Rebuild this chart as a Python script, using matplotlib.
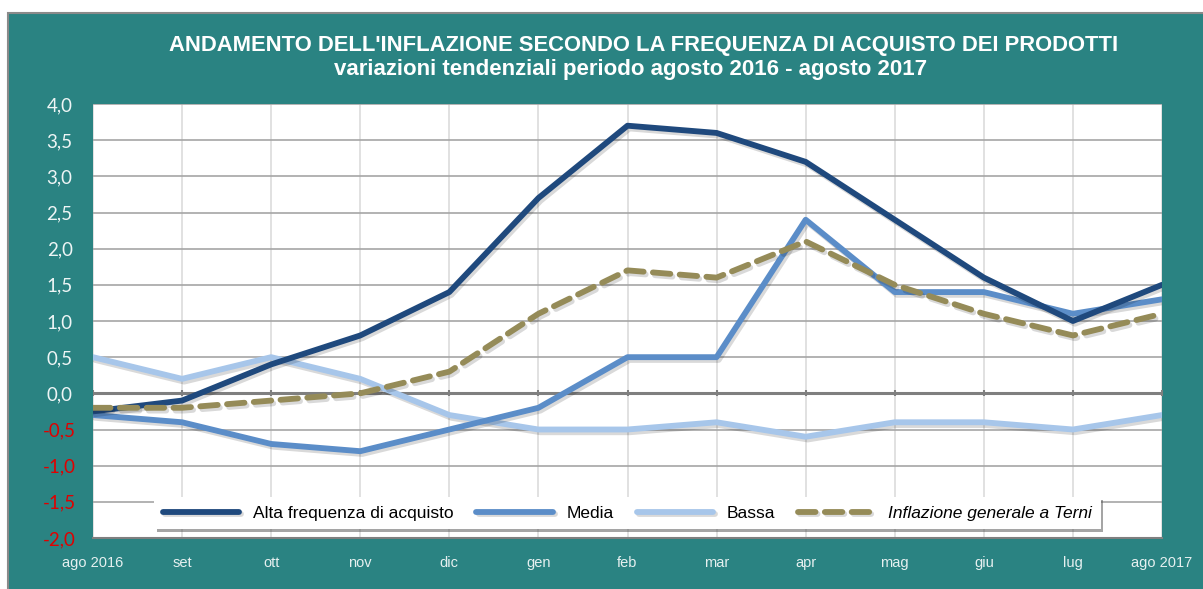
import matplotlib
matplotlib.use("Agg")
import matplotlib.pyplot as plt
from matplotlib.patches import Rectangle
import matplotlib.patheffects as pe

months = ["ago 2016", "set", "ott", "nov", "dic", "gen", "feb", "mar", "apr",
          "mag", "giu", "lug", "ago 2017"]
alta = [-0.25, -0.1, 0.4, 0.8, 1.4, 2.7, 3.7, 3.6, 3.2, 2.4, 1.6, 1.0, 1.5]
media = [-0.3, -0.4, -0.7, -0.8, -0.5, -0.2, 0.5, 0.5, 2.4, 1.4, 1.4, 1.1, 1.3]
bassa = [0.5, 0.2, 0.5, 0.2, -0.3, -0.5, -0.5, -0.4, -0.6, -0.4, -0.4, -0.5, -0.3]
inflazione = [-0.2, -0.2, -0.1, 0.0, 0.3, 1.1, 1.7, 1.6, 2.1, 1.5, 1.1, 0.8, 1.1]
yticks = [-2.0, -1.5, -1.0, -0.5, 0.0, 0.5, 1.0, 1.5, 2.0, 2.5, 3.0, 3.5, 4.0]

series_labels = ["Alta frequenza di acquisto", "Media", "Bassa",
                 "Inflazione generale a Terni"]

TEAL = "#2a8382"
W, H = 1203, 589
fig = plt.figure(figsize=(W / 100, H / 100), dpi=100)
fig.patch.set_facecolor("white")
fig.patches.append(Rectangle((8 / W, -0.01), 1.0, 1.01 - 13 / H, transform=fig.transFigure,
                             facecolor=TEAL, edgecolor="#8a8a8a", linewidth=1.5,
                             zorder=-10))

ax = fig.add_axes([93 / W, 1 - 538 / H, (1162 - 93) / W, (538 - 104) / H])
ax.set_facecolor("white")
x = list(range(len(months)))

shadow = [pe.SimpleLineShadow(offset=(1.5, -2), alpha=0.15, shadow_color="black"),
          pe.Normal()]

ax.plot(x, bassa, color="#a7c6ea", lw=4.2, solid_capstyle="round",
        path_effects=shadow, zorder=3, label=series_labels[2])
ax.plot(x, media, color="#5b8dc8", lw=4.2, solid_capstyle="round",
        path_effects=shadow, zorder=4, label=series_labels[1])
ax.plot(x, alta, color="#1f497d", lw=4.2, solid_capstyle="round",
        path_effects=shadow, zorder=5, label=series_labels[0])
ax.plot(x, inflazione, color="#958b58", lw=4.2, dashes=(3, 1.6), dash_capstyle="round",
        path_effects=shadow, zorder=6, label=series_labels[3])

ax.set_xlim(0, len(months) - 1)
ax.set_ylim(-2.0, 4.0)
ax.set_yticks(yticks)
ax.set_xticks(x)
ax.grid(axis="y", color="#a6a6a6", lw=1.2, zorder=0)
ax.grid(axis="x", color="#dcdcdc", lw=1.2, zorder=0)
ax.set_axisbelow(True)
ax.axhline(0, color="#7f7f7f", lw=2.2, zorder=2)
ax.plot(x, [0] * len(x), ls="none", marker="|", ms=5, mew=1.5, color="#7f7f7f", zorder=2)

for s in ax.spines.values():
    s.set_visible(False)
ax.spines["bottom"].set_visible(True)
ax.spines["bottom"].set_color("#7f7f7f")
ax.spines["bottom"].set_linewidth(1.5)

ax.tick_params(axis="both", length=0)
ax.tick_params(axis="x", pad=13)
ax.tick_params(axis="y", pad=24)
ax.set_xticklabels(months, fontsize=10.5, color="#e6f0f0", family="Liberation Sans")
ylabels = [f"{v:.1f}".replace(".", ",") for v in yticks]
ax.set_yticklabels(ylabels, fontsize=13.5, family="Lato")
for lab, v in zip(ax.get_yticklabels(), yticks):
    lab.set_color("#e00000" if v < 0 else "#eef5f5")
    lab.set_horizontalalignment("center")

handles, labels = ax.get_legend_handles_labels()
order = [2, 1, 0, 3]
leg = ax.legend([handles[i] for i in order], [labels[i] for i in order],
                loc="lower center", bbox_to_anchor=(0.5, 0.0), ncol=4,
                frameon=True, fancybox=False, shadow=True, framealpha=1,
                prop={"family": "Liberation Sans", "size": 12.5},
                handlelength=4.4, columnspacing=1.3, handletextpad=0.8,
                borderpad=0.5)
leg.get_frame().set_edgecolor("white")
leg.get_frame().set_linewidth(0)
leg.get_texts()[3].set_style("italic")
leg.set_zorder(10)

fig.text(0.535, 1 - 46 / H, "ANDAMENTO DELL'INFLAZIONE SECONDO LA FREQUENZA DI ACQUISTO DEI PRODOTTI",
         ha="center", va="center", color="white", fontsize=15.8, fontweight="bold",
         family="Liberation Sans")
fig.text(0.524, 1 - 70 / H, "variazioni tendenziali periodo agosto 2016 - agosto 2017",
         ha="center", va="center", color="white", fontsize=16, fontweight="bold",
         family="Liberation Sans")

fig.savefig("out.png", dpi=100, facecolor=fig.get_facecolor())
